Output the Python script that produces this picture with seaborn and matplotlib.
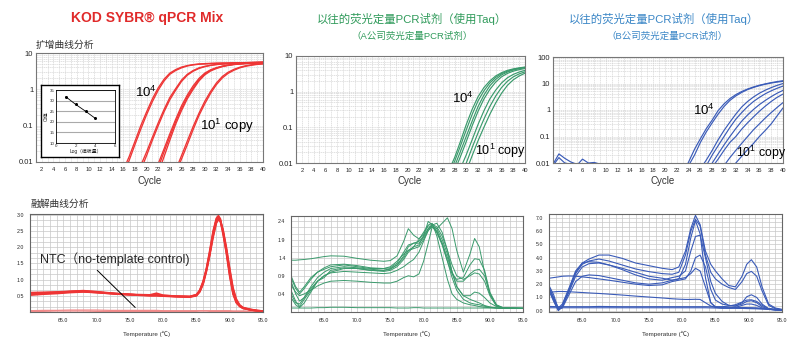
import numpy as np
import pandas as pd
import seaborn as sns
import matplotlib.pyplot as plt
from matplotlib.ticker import MultipleLocator, LogLocator, NullFormatter, AutoMinorLocator

sns.set_style('white')
plt.rcParams['font.family'] = ['Liberation Sans', 'Noto Sans CJK SC', 'DejaVu Sans']

# ---------------- amplification data (cycle start, values per cycle up to 40) ----------------
kod_start = [16, 16, 19, 19, 22, 22, 22, 25, 25]
kod_curves = [
    [0.006, 0.014, 0.037, 0.10, 0.24, 0.55, 1.10, 1.90, 2.80, 3.50, 4.10, 4.50, 4.80, 5.00, 5.10, 5.20, 5.25, 5.30, 5.30, 5.35, 5.40, 5.40, 5.45, 5.50, 5.50],
    [0.005, 0.011, 0.030, 0.08, 0.20, 0.46, 0.95, 1.70, 2.60, 3.30, 3.90, 4.40, 4.70, 4.90, 5.00, 5.10, 5.20, 5.25, 5.30, 5.35, 5.40, 5.45, 5.50, 5.55, 5.60],
    [0.008, 0.019, 0.048, 0.12, 0.28, 0.60, 1.05, 1.80, 2.60, 3.30, 3.90, 4.30, 4.60, 4.85, 5.00, 5.10, 5.20, 5.30, 5.35, 5.40, 5.45, 5.50],
    [0.006, 0.015, 0.040, 0.10, 0.24, 0.52, 0.95, 1.65, 2.45, 3.15, 3.75, 4.20, 4.55, 4.80, 4.95, 5.10, 5.20, 5.30, 5.40, 5.45, 5.50, 5.55],
    [0.009, 0.023, 0.060, 0.15, 0.35, 0.70, 1.25, 2.00, 2.80, 3.45, 3.95, 4.35, 4.65, 4.90, 5.05, 5.20, 5.30, 5.40, 5.50],
    [0.007, 0.019, 0.050, 0.13, 0.30, 0.62, 1.10, 1.85, 2.65, 3.35, 3.85, 4.30, 4.60, 4.85, 5.00, 5.15, 5.25, 5.35, 5.45],
    [0.005, 0.014, 0.040, 0.11, 0.26, 0.55, 1.00, 1.70, 2.50, 3.20, 3.75, 4.20, 4.55, 4.80, 4.95, 5.10, 5.20, 5.30, 5.40],
    [0.006, 0.015, 0.038, 0.095, 0.22, 0.47, 0.88, 1.50, 2.25, 2.95, 3.55, 4.05, 4.45, 4.75, 4.95, 5.10],
    [0.005, 0.012, 0.030, 0.078, 0.19, 0.40, 0.78, 1.35, 2.05, 2.75, 3.35, 3.90, 4.30, 4.60, 4.85, 5.00],
]

a_start = [27, 27, 28, 28, 29, 30, 30]
a_curves = [
    [0.006, 0.014, 0.040, 0.12, 0.32, 0.72, 1.30, 2.00, 2.75, 3.40, 3.95, 4.35, 4.65, 4.90],
    [0.005, 0.011, 0.030, 0.085, 0.23, 0.55, 1.05, 1.75, 2.50, 3.20, 3.75, 4.20, 4.55, 4.80],
    [0.008, 0.021, 0.056, 0.15, 0.38, 0.80, 1.45, 2.20, 2.95, 3.55, 4.05, 4.40, 4.70],
    [0.006, 0.015, 0.040, 0.11, 0.28, 0.62, 1.15, 1.85, 2.60, 3.25, 3.75, 4.15, 4.45],
    [0.007, 0.017, 0.045, 0.12, 0.29, 0.62, 1.10, 1.75, 2.45, 3.05, 3.55, 3.95],
    [0.010, 0.027, 0.070, 0.17, 0.38, 0.75, 1.30, 1.95, 2.60, 3.15, 3.60],
    [0.006, 0.016, 0.042, 0.10, 0.23, 0.48, 0.90, 1.50, 2.15, 2.75, 3.30],
]

b_start = [1, 1, 23, 24, 26, 27, 27, 28, 30, 31]
b_curves = [
    [0.009, 0.022, 0.015, 0.011, 0.009, 0.008, 0.007],
    [0.008, 0.016, 0.010, 0.009, 0.008, 0.014, 0.010, 0.0105, 0.009],
    [0.004, 0.011, 0.033, 0.083, 0.20, 0.42, 0.95, 1.70, 2.70, 3.80, 5.00, 6.20, 7.40, 8.60, 9.70, 10.8, 11.8, 12.8],
    [0.008, 0.020, 0.060, 0.15, 0.33, 0.70, 1.35, 2.30, 3.40, 4.60, 5.90, 7.10, 8.30, 9.40, 10.4, 11.3, 12.0],
    [0.006, 0.013, 0.030, 0.075, 0.17, 0.35, 0.70, 1.30, 2.10, 3.10, 4.30, 5.60, 7.00, 8.50, 10.0],
    [0.008, 0.020, 0.045, 0.10, 0.22, 0.45, 0.80, 1.35, 2.10, 3.00, 4.10, 5.30, 6.60, 8.00],
    [0.005, 0.010, 0.022, 0.048, 0.10, 0.20, 0.38, 0.65, 1.05, 1.60, 2.30, 3.20, 4.30, 5.50],
    [0.007, 0.014, 0.030, 0.060, 0.10, 0.19, 0.33, 0.55, 0.90, 1.40, 2.10, 3.00, 4.00],
    [0.008, 0.016, 0.030, 0.055, 0.10, 0.18, 0.30, 0.50, 0.80, 1.25, 1.90],
    [0.006, 0.010, 0.018, 0.032, 0.055, 0.10, 0.17, 0.30, 0.60, 1.20],
]

inset_log = [1, 2, 3, 4]
inset_ct = [31.8, 28.2, 25.0, 21.6]

# ---------------- melt data ----------------
red_temp = [60, 62, 64, 66, 68, 70, 72, 74, 76, 78, 79, 80, 82, 84, 85, 85.5, 86, 86.5, 87, 87.5,
            88, 88.3, 88.6, 89, 89.5, 90, 90.5, 91, 91.5, 92, 93, 94, 95]
red_melt = [
    [0.57, 0.58, 0.60, 0.63, 0.64, 0.61, 0.58, 0.55, 0.53, 0.52, 0.53, 0.50, 0.48, 0.47, 0.52, 0.65, 0.90, 1.30, 1.80, 2.40, 2.85, 2.95, 2.85, 2.50, 1.90, 1.20, 0.60, 0.30, 0.18, 0.12, 0.07, 0.04, 0.02],
    [0.52, 0.55, 0.57, 0.60, 0.62, 0.60, 0.57, 0.54, 0.52, 0.50, 0.50, 0.49, 0.47, 0.46, 0.50, 0.62, 0.85, 1.25, 1.75, 2.30, 2.75, 2.85, 2.80, 2.50, 1.95, 1.30, 0.70, 0.35, 0.20, 0.13, 0.08, 0.05, 0.03],
    [0.60, 0.61, 0.62, 0.64, 0.66, 0.63, 0.59, 0.56, 0.54, 0.53, 0.58, 0.52, 0.49, 0.48, 0.54, 0.68, 0.95, 1.35, 1.90, 2.50, 2.90, 2.98, 2.88, 2.45, 1.80, 1.10, 0.55, 0.28, 0.17, 0.11, 0.07, 0.04, 0.02],
    [0.55, 0.57, 0.59, 0.62, 0.63, 0.60, 0.57, 0.55, 0.53, 0.51, 0.51, 0.50, 0.48, 0.47, 0.51, 0.63, 0.88, 1.28, 1.78, 2.35, 2.78, 2.90, 2.82, 2.55, 2.00, 1.35, 0.75, 0.40, 0.22, 0.14, 0.09, 0.05, 0.03],
    [0.58, 0.59, 0.61, 0.63, 0.65, 0.62, 0.58, 0.55, 0.53, 0.52, 0.52, 0.51, 0.49, 0.48, 0.53, 0.66, 0.92, 1.32, 1.85, 2.45, 2.88, 2.92, 2.80, 2.40, 1.85, 1.15, 0.58, 0.30, 0.19, 0.12, 0.07, 0.04, 0.02],
]
red_ntc = [
    [0.04, 0.05, 0.05, 0.06, 0.06, 0.06, 0.05, 0.05, 0.05, 0.05, 0.05, 0.04, 0.04, 0.04, 0.04, 0.04, 0.04, 0.04, 0.04, 0.04, 0.04, 0.04, 0.04, 0.04, 0.04, 0.04, 0.03, 0.03, 0.03, 0.03, 0.02, 0.02, 0.02],
    [0.02, 0.02, 0.03, 0.03, 0.03, 0.02, 0.02, 0.02, 0.02, 0.02, 0.02, 0.02, 0.02, 0.02, 0.02, 0.03, 0.03, 0.03, 0.02, 0.02, 0.02, 0.02, 0.02, 0.02, 0.02, 0.02, 0.02, 0.02, 0.02, 0.02, 0.02, 0.02, 0.02],
]

green_temp = [60, 60.7, 61.3, 62, 63, 64, 65, 66, 68, 70, 72, 74, 75, 76, 77, 77.7, 78.5, 79.3, 80, 80.7,
              81.3, 82, 82.8, 83.6, 84.3, 85, 86, 87, 87.7, 88.4, 89.2, 90, 91, 92, 95]
green_melt = [
    [1.33, 1.33, 1.34, 1.35, 1.37, 1.40, 1.43, 1.45, 1.44, 1.38, 1.33, 1.30, 1.32, 1.45, 1.85, 2.20, 2.02, 1.92, 2.05, 2.28, 2.25, 2.10, 1.75, 1.30, 0.95, 0.80, 0.85, 1.20, 1.37, 1.35, 1.05, 0.45, 0.10, 0.02, 0.00],
    [0.90, 0.60, 0.45, 0.60, 0.85, 1.00, 1.08, 1.15, 1.20, 1.15, 1.10, 1.10, 1.15, 1.30, 1.50, 1.60, 1.65, 1.70, 1.90, 2.15, 2.30, 2.20, 2.35, 2.50, 2.20, 1.60, 1.00, 1.50, 1.93, 1.70, 1.00, 0.40, 0.08, 0.01, 0.00],
    [0.50, 0.20, 0.05, 0.25, 0.50, 0.75, 0.90, 1.00, 1.10, 1.10, 1.05, 1.05, 1.10, 1.20, 1.40, 1.60, 1.70, 1.90, 2.10, 2.30, 2.35, 2.00, 1.40, 0.80, 0.40, 0.25, 0.15, 0.10, 0.08, 0.05, 0.03, 0.02, 0.01, 0.00, 0.00],
    [0.65, 0.45, 0.35, 0.40, 0.50, 0.62, 0.70, 0.75, 0.77, 0.75, 0.72, 0.70, 0.70, 0.75, 0.85, 0.90, 0.87, 0.95, 1.30, 1.80, 2.25, 2.20, 1.90, 1.50, 1.00, 0.60, 0.35, 0.35, 0.45, 0.42, 0.30, 0.15, 0.05, 0.01, 0.00],
    [0.75, 0.40, 0.20, 0.30, 0.55, 0.75, 0.85, 1.05, 1.12, 1.10, 1.05, 1.02, 1.05, 1.15, 1.35, 1.55, 1.70, 1.75, 2.00, 2.40, 2.30, 2.10, 1.80, 1.40, 1.00, 0.75, 0.75, 0.95, 1.05, 1.08, 0.90, 0.40, 0.08, 0.01, 0.00],
    [0.40, 0.15, 0.12, 0.30, 0.60, 0.85, 1.00, 1.10, 1.15, 1.12, 1.08, 1.05, 1.08, 1.20, 1.45, 1.70, 1.80, 1.85, 2.00, 2.20, 2.32, 2.25, 2.00, 1.60, 1.20, 0.90, 0.80, 0.90, 0.98, 0.95, 0.75, 0.35, 0.06, 0.01, 0.00],
    [0.30, 0.10, 0.02, 0.15, 0.45, 0.75, 0.90, 0.98, 1.02, 1.00, 0.98, 0.96, 0.98, 1.05, 1.15, 1.25, 1.35, 1.55, 1.85, 2.15, 2.25, 2.15, 1.80, 1.30, 0.85, 0.50, 0.25, 0.15, 0.12, 0.10, 0.06, 0.03, 0.01, 0.00, 0.00],
    [0.85, 0.55, 0.40, 0.55, 0.80, 1.00, 1.12, 1.20, 1.22, 1.18, 1.12, 1.10, 1.12, 1.25, 1.55, 1.75, 1.80, 1.80, 1.95, 2.20, 2.30, 2.35, 2.10, 1.60, 1.00, 0.60, 0.35, 0.25, 0.20, 0.15, 0.08, 0.04, 0.01, 0.00, 0.00],
    [0.01, 0.01, 0.01, 0.01, 0.01, 0.02, 0.02, 0.03, 0.03, 0.02, 0.02, 0.02, 0.02, 0.01, 0.01, 0.01, 0.02, 0.02, 0.01, 0.01, 0.01, 0.01, 0.01, 0.01, 0.01, 0.01, 0.01, 0.01, 0.01, 0.01, 0.01, 0.01, 0.01, 0.01, 0.01],
]

blue_temp = [60, 60.7, 61.4, 62, 63, 64, 65, 66, 67.5, 69, 71, 73, 75, 77, 78.5, 79.5, 80.5, 81.3, 82, 82.7,
             83.5, 84.3, 85, 86, 87, 88, 89, 89.7, 90.4, 91.2, 92, 93, 94, 95]
blue_melt = [
    [1.80, 0.90, 0.10, 0.40, 1.60, 2.90, 3.60, 3.90, 4.20, 4.20, 3.95, 3.60, 3.40, 3.20, 3.10, 3.30, 4.50, 6.20, 7.20, 6.50, 4.50, 3.50, 3.00, 2.40, 1.90, 1.80, 2.60, 3.50, 3.85, 3.30, 1.80, 0.50, 0.20, 0.10],
    [1.60, 0.80, 0.05, 0.30, 1.50, 2.80, 3.50, 3.75, 3.90, 3.75, 3.45, 3.15, 2.95, 2.80, 2.75, 2.90, 4.20, 6.00, 6.90, 6.40, 4.20, 2.90, 2.40, 2.00, 1.75, 1.60, 2.20, 2.80, 2.97, 2.60, 1.50, 0.40, 0.15, 0.08],
    [1.70, 1.00, 0.20, 0.50, 1.70, 3.00, 3.60, 3.70, 3.65, 3.45, 3.20, 2.90, 2.60, 2.45, 2.30, 2.40, 3.50, 5.50, 6.80, 5.80, 2.50, 0.60, 0.30, 0.30, 0.35, 0.45, 0.65, 0.80, 0.82, 0.70, 0.40, 0.15, 0.08, 0.05],
    [1.50, 0.70, 0.00, 0.30, 1.40, 2.60, 3.30, 3.55, 3.60, 3.45, 3.10, 2.70, 2.40, 2.30, 2.50, 2.60, 3.00, 4.50, 5.60, 5.70, 4.00, 2.20, 1.30, 0.70, 0.40, 0.35, 0.60, 1.05, 1.20, 1.00, 0.50, 0.15, 0.08, 0.05],
    [2.45, 2.50, 2.55, 2.60, 2.62, 2.60, 2.55, 2.50, 2.40, 2.30, 2.15, 2.00, 1.90, 1.95, 2.20, 2.30, 2.40, 3.00, 4.00, 4.20, 3.30, 1.60, 0.80, 0.50, 0.40, 0.35, 0.50, 0.70, 0.75, 0.60, 0.30, 0.12, 0.06, 0.04],
    [1.90, 1.20, 0.10, 0.20, 1.20, 2.20, 2.60, 2.70, 2.65, 2.50, 2.30, 2.10, 2.00, 2.10, 2.30, 2.40, 2.50, 2.80, 3.20, 3.00, 1.80, 0.60, 0.25, 0.20, 0.20, 0.25, 0.40, 0.50, 0.50, 0.40, 0.20, 0.10, 0.05, 0.03],
    [1.40, 1.42, 1.45, 1.45, 1.43, 1.40, 1.37, 1.34, 1.30, 1.25, 1.18, 1.10, 1.03, 0.96, 0.90, 0.87, 0.85, 0.85, 0.86, 0.85, 0.60, 0.35, 0.25, 0.20, 0.20, 0.20, 0.20, 0.20, 0.20, 0.18, 0.15, 0.10, 0.06, 0.05],
    [0.32, 0.31, 0.30, 0.30, 0.30, 0.30, 0.30, 0.30, 0.32, 0.31, 0.30, 0.30, 0.30, 0.30, 0.30, 0.30, 0.30, 0.30, 0.30, 0.30, 0.30, 0.29, 0.28, 0.27, 0.26, 0.25, 0.24, 0.23, 0.22, 0.21, 0.18, 0.14, 0.10, 0.08],
    [0.22, 0.22, 0.22, 0.22, 0.22, 0.22, 0.22, 0.22, 0.22, 0.22, 0.22, 0.22, 0.22, 0.22, 0.22, 0.22, 0.22, 0.22, 0.22, 0.22, 0.22, 0.21, 0.20, 0.20, 0.19, 0.18, 0.17, 0.16, 0.15, 0.14, 0.12, 0.10, 0.08, 0.06],
]

RED = '#ee3535'
GREEN = '#3a9a6c'
BLUE = '#3a5bb8'


def amp_frame(starts, curves):
    rows = []
    for i, (s, vals) in enumerate(zip(starts, curves)):
        for j, v in enumerate(vals):
            rows.append((i, s + j, v))
    return pd.DataFrame(rows, columns=['curve', 'cycle', 'value'])


def melt_frame(temps, curves):
    rows = [(i, t, v) for i, c in enumerate(curves) for t, v in zip(temps, c)]
    return pd.DataFrame(rows, columns=['curve', 'temp', 'value'])


W, H = 789, 338
fig = plt.figure(figsize=(W / 100, H / 100), dpi=100)


def box(l, t, r, b):
    return fig.add_axes([l / W, 1 - b / H, (r - l) / W, (b - t) / H])


def ftext(x, y, s, **kw):
    fig.text(x / W, 1 - y / H, s, **kw)


def style_amp(ax, ymax):
    ax.set_yscale('log')
    ax.set_xlim(1, 40)
    ax.set_ylim(0.01, ymax)
    ax.set_xticks(range(2, 41, 2), [str(v) for v in range(2, 41, 2)])
    ax.xaxis.set_minor_locator(MultipleLocator(1))
    ticks = [t for t in [0.01, 0.1, 1, 10, 100] if t <= ymax]
    ax.set_yticks(ticks, ['0.01', '0.1', '1', '10', '100'][:len(ticks)])
    ax.yaxis.set_minor_locator(LogLocator(base=10, subs=np.arange(2, 10)))
    ax.yaxis.set_minor_formatter(NullFormatter())
    ax.grid(which='both', color='#d2d2d2', ls=(0, (2, 1)), lw=0.45)
    ax.tick_params(axis='x', which='both', labelsize=4.2, length=2, width=0.5, color='#777777', pad=1.5)
    ax.tick_params(axis='y', which='major', labelsize=5.5, length=0, pad=2)
    ax.tick_params(axis='y', which='minor', length=0)
    for sp in ax.spines.values():
        sp.set_color('#777777')
        sp.set_linewidth(0.8)
    ax.set_xlabel('')
    ax.set_ylabel('')


def style_melt(ax, ylim, yticks, fmt):
    ax.set_xlim(60, 95)
    ax.set_ylim(*ylim)
    ax.set_xticks([65, 70, 75, 80, 85, 90, 95], ['%.1f' % v for v in [65, 70, 75, 80, 85, 90, 95]])
    ax.xaxis.set_minor_locator(MultipleLocator(1))
    ax.set_yticks(yticks, [fmt % v for v in yticks])
    ax.yaxis.set_minor_locator(AutoMinorLocator(3))
    ax.grid(which='both', color='#c8c8c8', ls='-', lw=0.5)
    ax.tick_params(axis='both', which='major', labelsize=3.8, length=2, width=0.5, color='#777777', pad=2)
    ax.tick_params(axis='x', which='minor', length=1.5, width=0.4, color='#777777')
    ax.tick_params(axis='y', which='minor', length=0)
    for sp in ax.spines.values():
        sp.set_color('#666666')
        sp.set_linewidth(0.8)
    ax.set_xlabel('')
    ax.set_ylabel('')


# ---------------- top row: amplification ----------------
ax1 = box(36, 53, 263, 162)
ax1.set_yscale('log')
sns.lineplot(data=amp_frame(kod_start, kod_curves), x='cycle', y='value', units='curve',
             estimator=None, color=RED, lw=0.95, ax=ax1, legend=False)
style_amp(ax1, 10)

ax2 = box(296, 56, 525, 163)
ax2.set_yscale('log')
sns.lineplot(data=amp_frame(a_start, a_curves), x='cycle', y='value', units='curve',
             estimator=None, color=GREEN, lw=0.85, ax=ax2, legend=False)
style_amp(ax2, 10)

ax3 = box(553, 57, 783, 163)
ax3.set_yscale('log')
sns.lineplot(data=amp_frame(b_start, b_curves), x='cycle', y='value', units='curve',
             estimator=None, color=BLUE, lw=0.85, ax=ax3, legend=False)
style_amp(ax3, 100)

sup = dict(fontsize=9.5, color='black', ha='left', va='center')
ax1.text(18.0, 0.84, r'$\mathregular{10^4}$', **sup)
ax1.text(29.2, 0.098, r'$\mathregular{10^1}$ copy', **sup)
ax2.text(27.6, 0.66, r'$\mathregular{10^4}$', **sup)
ax2.text(31.5, 0.022, r'$\mathregular{10^1}$ copy', fontsize=9, color='black', ha='left', va='center')
ax3.text(24.7, 1.0, r'$\mathregular{10^4}$', **sup)
ax3.text(32.1, 0.024, r'$\mathregular{10^1}$ copy', fontsize=8.8, color='black', ha='left', va='center')

# inset standard curve
frame = box(41, 85, 119, 157)
frame.set_xticks([])
frame.set_yticks([])
frame.set_facecolor('white')
frame.set_zorder(5)
for sp in frame.spines.values():
    sp.set_color('black')
    sp.set_linewidth(1.0)

axi = box(56, 90, 115, 143)
axi.set_zorder(6)
axi.set_facecolor('white')
sns.lineplot(x=inset_log, y=inset_ct, color='black', lw=0.6, marker='o', markersize=2.2,
             markeredgewidth=0, ax=axi)
axi.set_xlim(0, 6)
axi.set_ylim(10, 35)
axi.set_xticks([0, 2, 4, 6])
axi.set_yticks([10, 15, 20, 25, 30, 35])
axi.grid(axis='y', color='#aaaaaa', lw=0.8)
axi.grid(axis='x', visible=False)
axi.tick_params(labelsize=3.2, length=0, pad=1)
for sp in axi.spines.values():
    sp.set_color('black')
    sp.set_linewidth(0.6)
axi.set_xlabel('Log（模板量）', fontsize=3.5, labelpad=0.5)
axi.set_ylabel('Ct值', fontsize=3.5, labelpad=0.5)

# ---------------- bottom row: melt curves ----------------
ax4 = box(30, 214, 263, 312)
sns.lineplot(data=melt_frame(red_temp, red_ntc), x='temp', y='value', units='curve',
             estimator=None, color='#f28a8a', lw=0.9, ax=ax4, legend=False)
sns.lineplot(data=melt_frame(red_temp, red_melt), x='temp', y='value', units='curve',
             estimator=None, color=RED, lw=1.2, ax=ax4, legend=False)
style_melt(ax4, (0.0, 3.03), [0.5, 1.0, 1.5, 2.0, 2.5, 3.0], '%.1f')
ax4.text(61.5, 1.64, 'NTC（no-template control)', fontsize=9, ha='left', va='center')
ax4.annotate('', xy=(76.1, 0.08), xytext=(69.8, 1.35),
             arrowprops=dict(arrowstyle='-', color='black', lw=0.7))

ax5 = box(291, 216, 523, 312)
sns.lineplot(data=melt_frame(green_temp, green_melt), x='temp', y='value', units='curve',
             estimator=None, color=GREEN, lw=0.7, ax=ax5, legend=False)
style_melt(ax5, (-0.1, 2.55), [0.4, 0.9, 1.4, 1.9, 2.4], '%.1f')

ax6 = box(549, 214, 782, 312)
sns.lineplot(data=melt_frame(blue_temp, blue_melt), x='temp', y='value', units='curve',
             estimator=None, color=BLUE, lw=0.8, ax=ax6, legend=False)
style_melt(ax6, (-0.1, 7.3), [0, 1, 2, 3, 4, 5, 6, 7], '%.1f')

# ---------------- titles and labels ----------------
ftext(147, 18, 'KOD SYBR® qPCR Mix', fontsize=10, fontweight='bold', color='#e02a2a', ha='center', va='center')
ftext(412, 19, '以往的荧光定量PCR试剂（使用Taq）', fontsize=8.2, color='#2f9a5a', ha='center', va='center')
ftext(412, 36, '（A公司荧光定量PCR试剂）', fontsize=6.8, color='#2f9a5a', ha='center', va='center')
ftext(664, 19, '以往的荧光定量PCR试剂（使用Taq）', fontsize=8.2, color='#3a86c6', ha='center', va='center')
ftext(667, 36, '（B公司荧光定量PCR试剂）', fontsize=6.8, color='#3a86c6', ha='center', va='center')

ftext(36, 45, '扩增曲线分析', fontsize=7, color='#333333', ha='left', va='center')
ftext(30, 204, '融解曲线分析', fontsize=7, color='#333333', ha='left', va='center')

for x in (150, 410, 663):
    ftext(x, 181, 'Cycle', fontsize=7, color='#333333', ha='center', va='center')
for x in (147, 407, 666):
    ftext(x, 334, 'Temperature (℃)', fontsize=4.5, color='#333333', ha='center', va='center')

fig.savefig('out.png', dpi=100)
